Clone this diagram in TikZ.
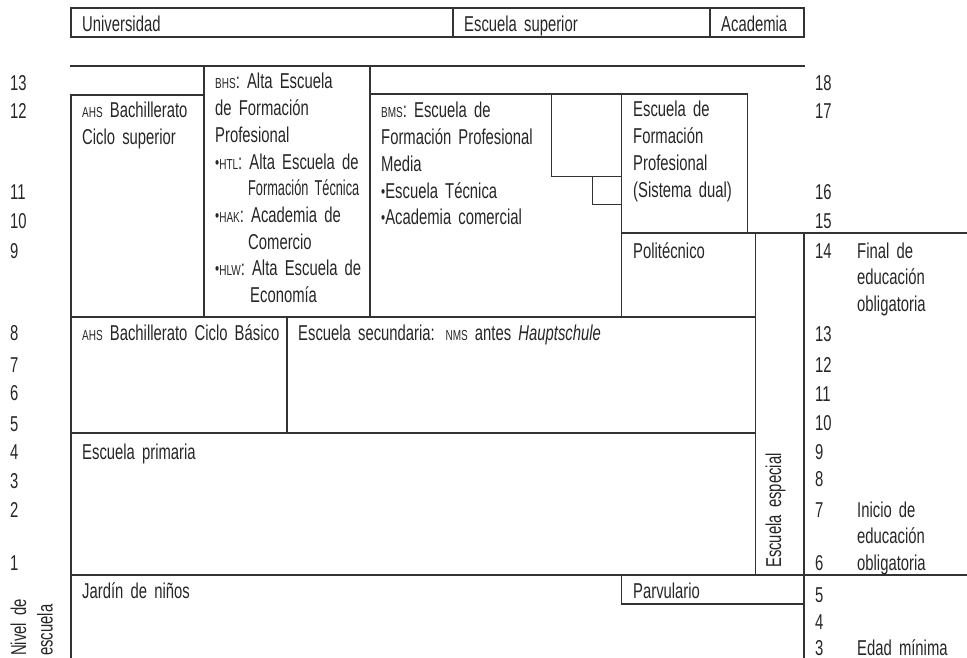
\documentclass[tikz,border=0pt]{standalone}
\usepackage{fontspec}
\usepackage{graphicx}
\setmainfont[FakeStretch=0.69]{Liberation Sans}
\newcommand\sca[1]{{\fontsize{14.5}{14.5}\selectfont #1}}
\newcommand\bul{{\fontsize{17}{17}\selectfont\raisebox{1pt}{•}}}
\begin{document}
\begin{tikzpicture}[x=1pt,y=-1pt, line join=miter, line cap=rect,
  ln/.style={draw=black!80, line width=1.4pt},
  txt/.style={anchor=base west, inner sep=0pt, text=black!85, text width=320pt, align=left,
    font=\fontsize{21.5}{26.7}\selectfont},
  num/.style={txt, text width=30pt}]
\useasboundingbox (0,0) rectangle (967,658);
% Rahmen
\draw[ln] (71,8) rectangle (804,37);
\draw[ln] (453,8)--(453,37) (710,8)--(710,37);
\draw[ln] (71,66)--(804,66);
\draw[ln] (71,95)--(204,95);
\draw[ln] (71,95)--(71,658);
\draw[ln] (204,66)--(204,317);
\draw[ln] (370,66)--(370,317);
\draw[ln] (370,94)--(747.7,94)--(747.7,233);
\draw[ln] (551.7,94)--(551.7,176.7)--(621.7,176.7);
\draw[ln] (592.7,176.7)--(592.7,204.7)--(621.7,204.7);
\draw[ln] (621.7,94)--(621.7,317);
\draw[ln] (621.7,233)--(967,233);
\draw[ln] (755.7,233)--(755.7,575);
\draw[ln] (804,233)--(804,658);
\draw[ln] (71,317)--(755.7,317);
\draw[ln] (287,317)--(287,433);
\draw[ln] (71,433)--(755.7,433);
\draw[ln] (71,575)--(967,575);
\draw[ln] (621.7,575)--(621.7,604)--(804,604);
% Texte
\node[txt] (uni) at (82,32) {Universidad};
\node[txt] (esup) at (464,32) {Escuela superior};
\node[txt] (acad) at (721,32) {Academia};
\node[txt] (ahsos) at (82,118) {\sca{AHS} Bachillerato\\Ciclo superior};
\node[txt] (bhs) at (215,89) {\sca{BHS}: Alta Escuela\\de Formación\\Profesional\\
  \bul\sca{HTL}: Alta Escuela de\\\hspace*{33pt}\scalebox{0.86}[1]{Formación Técnica}\\
  \bul\sca{HAK}: Academia de\\\hspace*{33pt}Comercio\\
  \bul\sca{HLW}: Alta Escuela de\\\hspace*{35pt}Economía};
\node[txt] (bms) at (381,118) {\sca{BMS}: Escuela de\\Formación Profesional\\Media\\
  \bul Escuela Técnica\\\bul Academia comercial};
\node[txt] (dual) at (633,117) {Escuela de\\Formación\\Profesional\\(Sistema dual)};
\node[txt] (poly) at (633,258) {Politécnico};
\node[txt] (ahsus) at (82,340) {\sca{AHS} Bachillerato Ciclo Básico};
\node[txt] (nms) at (298,340) {Escuela secundaria: \sca{NMS} antes \textit{Hauptschule}};
\node[txt] (vs) at (82,459) {Escuela primaria};
\node[txt] (kg) at (82,598) {Jardín de niños};
\node[txt] (vor) at (633,598) {Parvulario};
\node[txt, text width=120pt, rotate=90] (sond) at (781,568) {Escuela especial};
\node[txt, text width=60pt, rotate=90] (niv) at (26,656) {Nivel de\\escuela};
% Schulstufen und Alter
\foreach \n/\y in {13/91,12/119,11/200,10/229,9/258,8/340,7/372,6/400,5/431,4/459,3/488,2/517,1/570}
  \node[num] (l\n) at (10,\y) {\n};
\foreach \n/\y in {18/91,17/119,16/200,15/229,14/258,13/341,12/372,11/401,10/430,9/459,8/486,7/517,6/570,5/602,4/629,3/655}
  \node[num] (r\n) at (815,\y) {\n};
\node[txt] (ende) at (857,258) {Final de\\educación\\obligatoria};
\node[txt] (beg) at (857,517) {Inicio de\\educación\\obligatoria};
\node[txt] (min) at (857,655) {Edad mínima};
\end{tikzpicture}
\end{document}
